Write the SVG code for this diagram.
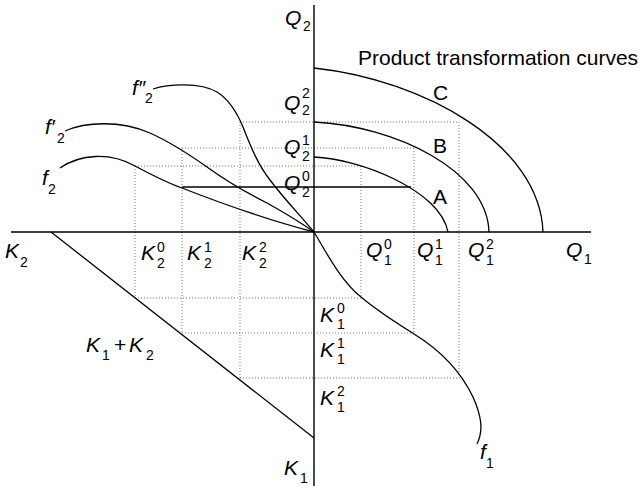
<svg xmlns="http://www.w3.org/2000/svg" width="642" height="486" viewBox="0 0 642 486">
<style>
.ax{stroke:#000;stroke-width:1.4;fill:none}
.cv{stroke:#000;stroke-width:1.3;fill:none}
.dt{stroke:#777;stroke-width:1;stroke-dasharray:1 2;fill:none}
text{font-family:"Liberation Sans",Arial,sans-serif;fill:#000}
.v{font-size:21px;font-style:italic}
.i{font-size:14px}
.t{font-size:21px}
</style>
<rect width="642" height="486" fill="#fff"/>
<g id="grid">
<path class="dt" d="M240,122H459M182,148H414M135,166H361M135,298H361M182,333H414M240,378H459"/>
<path class="dt" d="M135,166V298M182,148V333M240,122V378M361,166V298M414,148V333M459,122V378"/>
</g>
<g id="connectors">
<path class="ax" d="M314,5V486M11,232H591"/>
<path class="cv" d="M51,232L314,438"/>
<path class="cv" d="M182,187H411"/>
</g>
<g id="curveC"><path class="cv" d="M314,68C425,80 540,145 543,232"/><text class="t" x="433" y="100">C</text></g>
<g id="curveB"><path class="cv" d="M314,122C395,126 487,170 489,232"/><text class="t" x="433" y="153">B</text></g>
<g id="curveA"><path class="cv" d="M314,157C360,159 440,190 448,232"/><text class="t" x="433" y="204">A</text></g>
<g id="f2"><path class="cv" d="M60,168C80,154 110,152 135,166C150,174 165,182 182,188C205,197 260,218 314,232"/>
<text class="v" x="42" y="185">f</text><text class="i" x="48" y="194">2</text></g>
<g id="f2p"><path class="cv" d="M65,131C85,122 120,120 150,133C170,142 190,155 207,167C225,180 245,192 267,203C285,213 300,222 314,232"/>
<text class="v" x="45" y="134">f′</text><text class="i" x="57" y="143">2</text></g>
<g id="f2pp"><path class="cv" d="M153,89C168,84 200,82 217,92C230,100 238,115 243,127C250,145 258,165 270,180C285,200 300,215 314,232"/>
<text class="v" x="132" y="95">f″</text><text class="i" x="145" y="103">2</text></g>
<g id="f1"><path class="cv" d="M314,232C325,250 340,280 361,297C380,313 400,325 414,334C440,350 460,370 473,397C481,415 484,430 477,444"/>
<text class="v" x="480" y="459">f</text><text class="i" x="486" y="468">1</text></g>
<g id="title"><text class="t" x="358" y="65">Product transformation curves</text></g>
<g id="labelsQ2">
<text class="v" x="285" y="25">Q</text><text class="i" x="303" y="31">2</text>
<text class="v" x="284" y="110">Q</text><text class="i" x="302" y="98">2</text><text class="i" x="302" y="115">2</text>
<text class="v" x="284" y="154">Q</text><text class="i" x="302" y="145">1</text><text class="i" x="302" y="161">2</text>
<text class="v" x="284" y="190">Q</text><text class="i" x="302" y="181">0</text><text class="i" x="302" y="197">2</text>
</g>
<g id="labelsQ1">
<text class="v" x="366" y="257">Q</text><text class="i" x="384" y="249">0</text><text class="i" x="384" y="265">1</text>
<text class="v" x="417" y="257">Q</text><text class="i" x="435" y="249">1</text><text class="i" x="435" y="265">1</text>
<text class="v" x="468" y="257">Q</text><text class="i" x="486" y="249">2</text><text class="i" x="486" y="265">1</text>
<text class="v" x="566" y="257">Q</text><text class="i" x="584" y="264">1</text>
</g>
<g id="labelsK2">
<text class="v" x="5" y="258">K</text><text class="i" x="20" y="267">2</text>
<text class="v" x="141" y="260">K</text><text class="i" x="157" y="252">0</text><text class="i" x="157" y="268">2</text>
<text class="v" x="187" y="260">K</text><text class="i" x="204" y="252">1</text><text class="i" x="204" y="268">2</text>
<text class="v" x="242" y="260">K</text><text class="i" x="259" y="252">2</text><text class="i" x="259" y="268">2</text>
</g>
<g id="labelsK1">
<text class="v" x="320" y="322">K</text><text class="i" x="337" y="313">0</text><text class="i" x="337" y="329">1</text>
<text class="v" x="320" y="357">K</text><text class="i" x="337" y="348">1</text><text class="i" x="337" y="364">1</text>
<text class="v" x="320" y="405">K</text><text class="i" x="337" y="396">2</text><text class="i" x="337" y="412">1</text>
<text class="v" x="284" y="475">K</text><text class="i" x="300" y="483">1</text>
</g>
<g id="labelSum">
<text class="v" x="86" y="352">K</text><text class="i" x="102" y="360">1</text><text class="t" x="114" y="352">+</text><text class="v" x="129" y="352">K</text><text class="i" x="146" y="360">2</text>
</g>
</svg>
